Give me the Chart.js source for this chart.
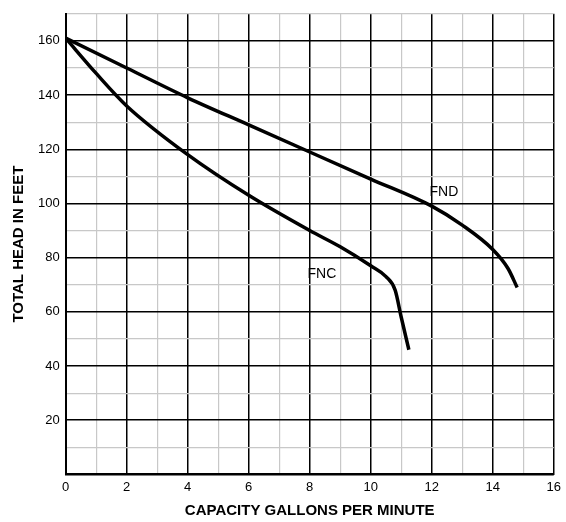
<!DOCTYPE html><html><head><script src="https://cdn.jsdelivr.net/npm/chart.js"></script>
<style>body{margin:0;background:#fff}#w{width:566px;height:522px}</style></head><body><div id="w"><canvas id="c"></canvas></div>
<script>
const fndX=[0,2,4,6,8,10,12,13,14,14.5,14.8];
const fndY=[161,150,139,129,119,109,99,92,83,76,69];
const fncX=[0,1,2,4,6,8,9,10,10.5,10.8,11,11.25];
const fncY=[161,148,136,118,103,90,84,77,73,68,58,46];
const labels=[{t:'FND',x:12.4,y:104},{t:'FNC',x:8.4,y:74}];
const pts=(xs,ys)=>xs.map((x,i)=>({x,y:ys[i]}));
const lab={id:'lab',afterDatasetsDraw(ch){const c=ch.ctx,sx=ch.scales.x,sy=ch.scales.y;c.save();c.font='14px "Liberation Sans", Arial';c.fillStyle='#000';c.textAlign='center';c.textBaseline='middle';labels.forEach(l=>c.fillText(l.t,sx.getPixelForValue(l.x),sy.getPixelForValue(l.y)));c.restore();}};
const grid=(maj)=>({color:ctx=>ctx.tick&&ctx.tick.value%maj===0?'#000':'#c8c8c8',lineWidth:ctx=>ctx.tick&&ctx.tick.value%maj===0?1.5:1.2,drawTicks:false});
new Chart(document.getElementById('c'),{type:'scatter',
data:{datasets:[{data:pts(fndX,fndY)},{data:pts(fncX,fncY)}].map(d=>Object.assign(d,{showLine:true,borderColor:'#000',borderWidth:3.5,pointRadius:0,tension:0.4,cubicInterpolationMode:'monotone'}))},
plugins:[lab],
options:{responsive:true,maintainAspectRatio:false,animation:false,layout:{padding:{top:11,right:12,left:6,bottom:2}},
plugins:{legend:{display:false},tooltip:{enabled:false}},
scales:{x:{type:'linear',min:0,max:16,border:{color:'#000',width:2},grid:grid(2),
ticks:{stepSize:1,autoSkip:false,color:'#000',padding:5,font:{size:13,family:'"Liberation Sans", Arial'},callback:v=>v%2===0?v:''},
title:{display:true,text:'CAPACITY GALLONS PER MINUTE',color:'#000',padding:{top:2,bottom:0},font:{size:15,weight:'bold',family:'"Liberation Sans", Arial'}}},
y:{min:0,max:170,border:{color:'#000',width:2},grid:grid(20),
ticks:{stepSize:10,autoSkip:false,color:'#000',padding:6,font:{size:13,family:'"Liberation Sans", Arial'},callback:v=>(v%20===0&&v>0)?v:''},
title:{display:true,text:'TOTAL HEAD IN FEET',color:'#000',font:{size:15,weight:'bold',family:'"Liberation Sans", Arial'}}}}}});
</script></body></html>
